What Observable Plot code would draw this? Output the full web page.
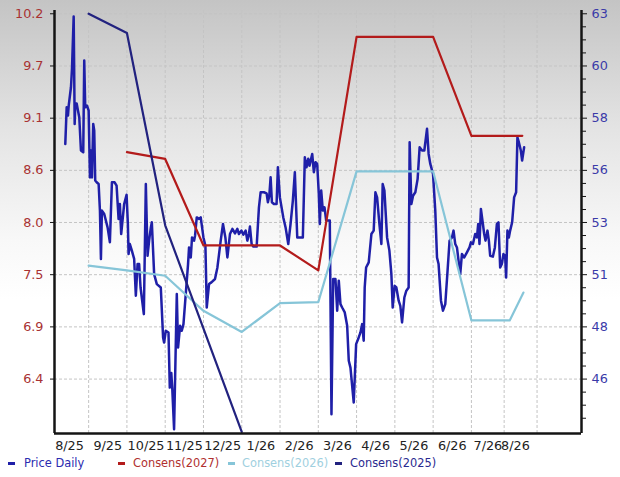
<!DOCTYPE html>
<html>
<head>
<meta charset="utf-8">
<script src="https://cdn.jsdelivr.net/npm/d3@7"></script>
<script src="https://cdn.jsdelivr.net/npm/@observablehq/plot@0.6"></script>
<style>
  html, body { margin:0; padding:0; }
  body { width:620px; height:477px; overflow:hidden;
    background: linear-gradient(to bottom, #c4c4c4 0px, #e4e4e4 130px, #f8f8f8 240px, #ffffff 300px);
    font-family:"DejaVu Sans", sans-serif; }
  #chart svg { display:block; overflow:visible; }
  #legend { position:relative; width:620px; height:25px; font-size:11.4px; }
  #legend .txt { position:absolute; top:4px; line-height:14px; white-space:nowrap; }
  #legend .dash { position:absolute; top:10px; width:7px; height:2.5px; }
</style>
</head>
<body>
<div id="chart"></div>
<div id="legend"></div>
<script>
// ---- axes / ticks ----
const epsTicks = [10.2, 9.657, 9.114, 8.571, 8.029, 7.486, 6.943, 6.4];
const epsTickLabels = ["10.2","9.7","9.1","8.6","8.0","7.5","6.9","6.4"];
const priceTicks = [62.9, 60.45, 58.0, 55.55, 53.1, 50.65, 48.2, 45.75];
const priceTickLabels = ["63","60","58","56","53","51","48","46"];
const monthLabels = ["8/25","9/25","10/25","11/25","12/25","1/26","2/26","3/26","4/26","5/26","6/26","7/26","8/26"];
const monthLabelPos = [0.5,1.5,2.5,3.5,4.5,5.5,6.5,7.5,8.5,9.5,10.5,11.43,12.15];
const gridMonths = [1,2,3,4,5,6,7,8,9,10,11,11.855,12.715];

// ---- Price Daily (months since Aug 1 2025, price) ----
const priceMonth = [0.390,0.426,0.460,0.479,0.538,0.565,0.609,0.635,0.651,0.687,
0.721,0.755,0.799,0.859,0.885,0.911,0.956,1.000,1.034,1.060,
1.086,1.120,1.146,1.172,1.209,1.261,1.295,1.321,1.347,1.407,
1.495,1.555,1.608,1.678,1.730,1.782,1.816,1.850,1.928,1.991,
2.025,2.043,2.077,2.129,2.189,2.233,2.278,2.319,2.356,2.442,
2.494,2.539,2.580,2.625,2.651,2.711,2.781,2.885,2.945,2.971,
3.016,3.086,3.120,3.159,3.185,3.232,3.303,3.336,3.389,3.433,
3.477,3.537,3.597,3.623,3.668,3.701,3.754,3.780,3.824,3.884,
3.928,3.999,4.051,4.085,4.145,4.207,4.301,4.364,4.450,4.510,
4.572,4.625,4.692,4.755,4.823,4.885,4.927,4.990,5.042,5.102,
5.146,5.188,5.214,5.258,5.303,5.389,5.449,5.493,5.579,5.649,
5.683,5.720,5.754,5.788,5.840,5.910,5.944,5.996,6.085,6.145,
6.215,6.275,6.335,6.387,6.450,6.510,6.596,6.648,6.692,6.737,
6.771,6.841,6.883,6.927,6.971,7.013,7.039,7.076,7.118,7.162,
7.206,7.300,7.344,7.389,7.448,7.493,7.535,7.579,7.623,7.691,
7.754,7.796,7.840,7.926,7.988,8.041,8.101,8.145,8.186,8.212,
8.249,8.317,8.387,8.447,8.492,8.536,8.596,8.648,8.682,8.727,
8.797,8.857,8.909,8.943,8.995,9.039,9.099,9.143,9.188,9.248,
9.300,9.360,9.386,9.431,9.475,9.535,9.595,9.647,9.710,9.770,
9.840,9.882,9.926,9.997,10.056,10.101,10.142,10.205,10.257,10.317,
10.377,10.429,10.492,10.533,10.578,10.622,10.664,10.708,10.752,10.812,
10.883,10.950,10.987,11.039,11.099,11.144,11.177,11.211,11.248,11.300,
11.334,11.368,11.420,11.456,11.490,11.561,11.613,11.665,11.707,11.751,
11.795,11.837,11.881,11.907,11.941,11.978,12.012,12.064,12.116,12.168,
12.202,12.239,12.291,12.325,12.377];
const priceClose = [56.79,58.51,58.12,58.59,59.45,60.32,62.77,57.73,58.69,58.69,
58.36,58.04,56.48,56.40,60.71,58.51,58.59,58.36,55.22,56.48,
55.22,57.73,57.42,55.07,54.99,54.91,53.66,51.39,53.66,53.50,
52.87,52.17,54.99,54.99,54.83,53.27,53.97,52.56,53.97,54.40,
53.03,51.62,52.09,51.78,51.39,49.66,51.15,51.15,50.05,48.80,
54.91,51.54,52.25,52.87,53.11,50.68,50.21,50.05,47.70,47.47,
48.02,47.94,45.35,46.04,45.29,43.40,49.74,47.23,48.25,48.02,
48.33,49.74,51.15,51.93,51.46,52.40,52.25,52.48,53.34,53.27,
53.34,52.40,52.01,49.11,50.21,50.29,50.45,50.99,52.25,53.03,
52.40,51.46,52.56,52.80,52.59,52.80,52.56,52.72,52.53,52.72,
52.25,52.56,52.91,52.09,51.97,51.97,53.81,54.52,54.52,54.47,
54.05,54.36,55.22,54.05,53.97,53.97,55.69,54.28,53.34,52.87,
52.09,53.03,54.13,55.46,52.40,52.40,52.40,56.16,55.69,56.09,
55.77,56.32,55.46,55.93,55.85,54.44,53.03,54.60,53.66,53.81,
53.19,53.19,44.10,50.45,50.45,48.96,50.37,49.27,49.11,48.88,
48.25,46.61,46.29,44.65,47.39,47.63,47.94,48.33,47.55,50.05,
50.99,51.23,52.56,52.72,54.52,54.28,53.03,52.09,54.91,54.60,
52.40,51.78,50.68,49.11,50.13,50.05,49.43,49.19,48.41,49.58,
49.90,50.05,56.87,53.97,54.36,54.52,55.15,56.63,56.48,56.48,
57.50,56.32,55.85,55.38,53.66,51.46,51.15,49.43,48.96,49.27,
50.84,52.25,52.40,52.72,52.09,51.93,51.31,50.68,51.62,51.46,
51.70,51.93,52.17,52.09,52.56,52.40,53.03,52.09,53.74,53.03,
52.56,52.25,52.72,52.25,51.54,51.50,51.93,53.03,53.11,50.99,
51.15,51.62,51.54,50.52,52.72,52.40,52.72,53.11,54.28,54.52,
57.10,56.87,56.48,56.01,56.63];

// ---- Consensus EPS estimates (left axis) ----
const cons2027Month = [2,3,4,6,7,8,10,11,12.33];
const cons2027 = [8.76,8.69,7.79,7.79,7.53,9.96,9.96,8.93,8.93];
const cons2026Month = [1,2,3,4,5,6,7,8,10,11,12,12.36];
const cons2026 = [7.58,7.53,7.475,7.11,6.89,7.19,7.20,8.56,8.56,7.01,7.01,7.30];
const cons2025Month = [1,2,3,5];
const cons2025 = [10.20,10.00,8.00,5.85];

// ---- build ----
const n = epsTicks.length;
const toEps = d3.scaleLinear()
  .domain([priceTicks[n-1], priceTicks[0]])
  .range([epsTicks[n-1], epsTicks[0]]);
const priceData = priceMonth.map((m, i) => ({m, v: toEps(priceClose[i])}));
const mk = (ms, vs) => ms.map((m, i) => ({m, v: vs[i]}));

const step = epsTicks[0] - epsTicks[1];
const minor = [];
epsTicks.forEach(t => { for (let k = 1; k < 4; k++) minor.push(t - k * step / 4); });

const xDomain = [0.108, 13.876];
const yDomain = [5.834, 10.234];
const gridStyle = {stroke:"#c4c4c4", strokeOpacity:1, strokeWidth:1, strokeDasharray:"3,2"};
const axisCol = "#141414";

const plot = Plot.plot({
  width: 620, height: 452,
  marginTop: 10, marginBottom: 19, marginLeft: 54, marginRight: 39,
  x: {type:"linear", domain:xDomain, label:null},
  y: {type:"linear", domain:yDomain, label:null},
  style: {background:"transparent", fontFamily:"DejaVu Sans", fontSize:"12.8px", overflow:"visible"},
  marks: [
    Plot.gridY(epsTicks, gridStyle),
    Plot.gridX(gridMonths, gridStyle),
    Plot.line(priceData, {x:"m", y:"v", stroke:"#1f1fa8", strokeWidth:2.5, strokeLinejoin:"round", clip:true}),
    Plot.line(mk(cons2027Month, cons2027), {x:"m", y:"v", stroke:"#b31b1b", strokeWidth:2.2, clip:true}),
    Plot.line(mk(cons2026Month, cons2026), {x:"m", y:"v", stroke:"#86c5d8", strokeWidth:2.2, clip:true}),
    Plot.line(mk(cons2025Month, cons2025), {x:"m", y:"v", stroke:"#22227f", strokeWidth:2.2, clip:true}),
    Plot.ruleX([xDomain[0]], {stroke:axisCol, strokeWidth:2.5}),
    Plot.ruleX([xDomain[1]], {stroke:axisCol, strokeWidth:2.5}),
    Plot.ruleY([yDomain[0]], {stroke:axisCol, strokeWidth:2.5}),
    Plot.axisY(epsTicks, {anchor:"left", tickSize:4, tickPadding:7,
      tickFormat: d => epsTickLabels[epsTicks.indexOf(d)], stroke:axisCol, fill:"#a83232"}),
    Plot.axisY(epsTicks, {anchor:"right", tickSize:5, tickPadding:5,
      tickFormat: d => priceTickLabels[epsTicks.indexOf(d)], stroke:axisCol, fill:"#3a3aa8"}),
    Plot.axisY(minor, {anchor:"right", tickSize:4, tickFormat: () => "", stroke:axisCol}),
    Plot.axisX(monthLabelPos, {anchor:"bottom", tickSize:0, tickPadding:7,
      tickFormat: d => monthLabels[monthLabelPos.indexOf(d)], fill:"#222"})
  ]
});
document.getElementById("chart").appendChild(plot);

// ---- legend ----
const legendItems = [
  {label:"Price Daily", line:"#1f1fa8", text:"#2b2bb0"},
  {label:"Consens(2027)", line:"#b31b1b", text:"#b03030"},
  {label:"Consens(2026)", line:"#86c5d8", text:"#9fd0e0"},
  {label:"Consens(2025)", line:"#22227f", text:"#2a2a90"}
];
const dashX = [8, 118, 228, 335];
const textX = [24, 133, 242, 350];
const legend = document.getElementById("legend");
legendItems.forEach((it, i) => {
  const d = document.createElement("div");
  d.className = "dash"; d.style.left = dashX[i] + "px"; d.style.background = it.line;
  legend.appendChild(d);
  const t = document.createElement("div");
  t.className = "txt"; t.style.left = textX[i] + "px"; t.style.color = it.text;
  t.textContent = it.label;
  legend.appendChild(t);
});
</script>
</body>
</html>
